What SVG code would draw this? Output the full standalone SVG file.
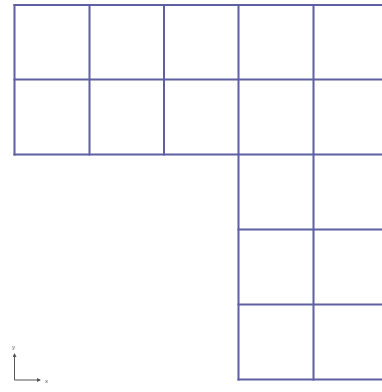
<svg xmlns="http://www.w3.org/2000/svg" width="382" height="392" viewBox="0 0 382 392">
<style>
.g{stroke:#5f5fa3;stroke-width:2;fill:none;stroke-linecap:square}
.ax{stroke:#555;stroke-width:1;fill:none}
.t{font-family:"Liberation Sans",Arial,sans-serif;font-size:6px;fill:#555}
</style>
<defs>
<marker id="ah" markerWidth="4" markerHeight="4" refX="3" refY="2" orient="auto" markerUnits="userSpaceOnUse">
<path d="M0,0 L4,2 L0,4 Z" fill="#555"/>
</marker>
</defs>
<rect width="382" height="392" fill="#fff"/>
<g id="grid" class="g">
<path d="M14.5,5 H382 M14.5,79.5 H382 M14.5,154.5 H382 M238.5,229.5 H382 M238.5,304.5 H382 M238.5,379.5 H382"/>
<path d="M14.5,5 V154.5 M89.5,5 V154.5 M164,5 V154.5 M238.5,5 V379.5 M313.5,5 V379.5"/>
</g>
<g id="axes">
<path class="ax" d="M14.5,380 V354" marker-end="url(#ah)"/>
<path class="ax" d="M14.5,380 H40" marker-end="url(#ah)"/>
<text class="t" x="12" y="349">y</text>
<text class="t" x="45" y="383">x</text>
</g>
</svg>
